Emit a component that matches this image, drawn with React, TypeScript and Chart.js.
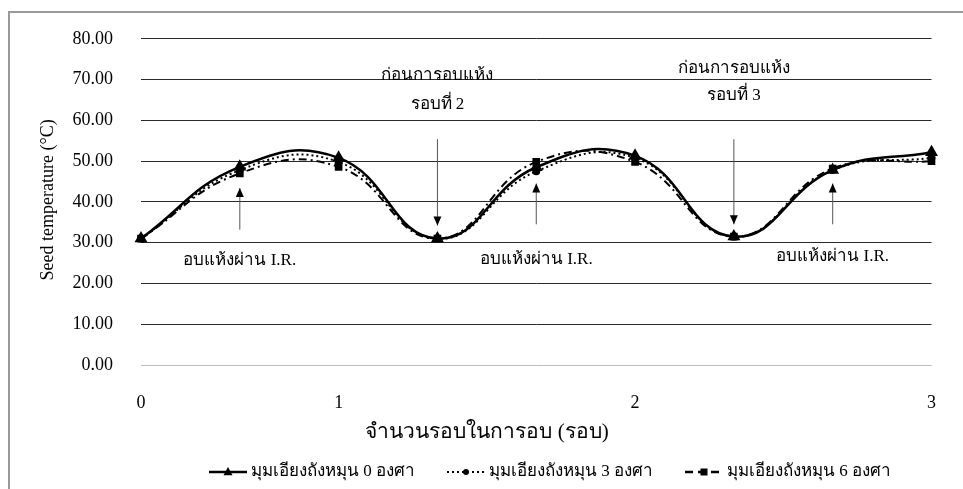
import React, { useEffect, useRef } from "react";
import { Chart, registerables } from "chart.js";

Chart.register(...registerables);

const categories = ["0", "", "1", "", "", "2", "", "", "3"];
const series0 = [31, 48.6, 50.8, 31, 48.5, 51.3, 31.5, 47.8, 52.2];
const series1 = [31, 47.8, 49.8, 31, 47.5, 50.8, 31.5, 47.8, 50.8];
const series2 = [31, 47, 48.6, 31, 49.8, 49.8, 31.5, 48.2, 50];
const seriesNames = [
  "มุมเอียงถังหมุน 0 องศา",
  "มุมเอียงถังหมุน 3 องศา",
  "มุมเอียงถังหมุน 6 องศา",
];
const yTitle = "Seed temperature (°C)";
const xTitle = "จำนวนรอบในการอบ (รอบ)";

// annotations in data units (category index, value)
const downArrows = [
  { x: 3, from: 55.4, to: 34.2, lines: ["ก่อนการอบแห้ง", "รอบที่ 2"], ly: [71, 64] },
  { x: 6, from: 55.4, to: 34.5, lines: ["ก่อนการอบแห้ง", "รอบที่ 3"], ly: [72.8, 66.2] },
];
const upArrows = [
  { x: 1, from: 33.2, to: 43.4, label: "อบแห้งผ่าน I.R.", ly: 25.7 },
  { x: 4, from: 34.5, to: 44.5, label: "อบแห้งผ่าน I.R.", ly: 25.9 },
  { x: 7, from: 34.5, to: 44.5, label: "อบแห้งผ่าน I.R.", ly: 26.6 },
];

const FONT = "'Liberation Serif', 'Times New Roman', serif";

function drawMarker(ctx: CanvasRenderingContext2D, style: string, x: number, y: number, r: number) {
  ctx.beginPath();
  if (style === "triangle") {
    ctx.moveTo(x, y - r * 1.1);
    ctx.lineTo(x + r, y + r * 0.7);
    ctx.lineTo(x - r, y + r * 0.7);
    ctx.closePath();
  } else if (style === "circle") {
    ctx.arc(x, y, r, 0, Math.PI * 2);
  } else {
    ctx.rect(x - r, y - r, r * 2, r * 2);
  }
  ctx.fill();
}

const overlay = {
  id: "overlay",
  afterDraw(chart: any) {
    const ctx: CanvasRenderingContext2D = chart.ctx;
    const xs = chart.scales.x;
    const ys = chart.scales.y;
    ctx.save();
    // outer frame
    ctx.strokeStyle = "#9a9a9a";
    ctx.lineWidth = 2;
    ctx.strokeRect(9, 12, 1000, 600);

    // y title
    ctx.fillStyle = "#000";
    ctx.font = `18px ${FONT}`;
    ctx.save();
    ctx.translate(48, (chart.chartArea.top + chart.chartArea.bottom) / 2 - 2);
    ctx.rotate(-Math.PI / 2);
    ctx.textAlign = "center";
    ctx.textBaseline = "middle";
    ctx.fillText(yTitle, 0, 0);
    ctx.restore();

    // x title
    ctx.textAlign = "center";
    ctx.textBaseline = "middle";
    ctx.font = `21px ${FONT}`;
    ctx.fillText(xTitle, 487, 432);

    // arrows
    const arrow = (x: number, y1: number, y2: number) => {
      ctx.strokeStyle = "#555";
      ctx.lineWidth = 1;
      ctx.beginPath();
      ctx.moveTo(x, y1);
      ctx.lineTo(x, y2);
      ctx.stroke();
      const dir = y2 > y1 ? 1 : -1;
      ctx.fillStyle = "#000";
      ctx.beginPath();
      ctx.moveTo(x, y2);
      ctx.lineTo(x - 4, y2 - dir * 9);
      ctx.lineTo(x + 4, y2 - dir * 9);
      ctx.closePath();
      ctx.fill();
    };
    ctx.font = `17px ${FONT}`;
    for (const a of downArrows) {
      const px = xs.getPixelForValue(a.x);
      arrow(px, ys.getPixelForValue(a.from), ys.getPixelForValue(a.to));
      ctx.fillStyle = "#000";
      a.lines.forEach((t, i) => ctx.fillText(t, px, ys.getPixelForValue(a.ly[i])));
    }
    for (const a of upArrows) {
      const px = xs.getPixelForValue(a.x);
      arrow(px, ys.getPixelForValue(a.from), ys.getPixelForValue(a.to));
      ctx.fillStyle = "#000";
      ctx.fillText(a.label, px, ys.getPixelForValue(a.ly));
    }

    // legend
    const styles = [
      { dash: [], marker: "triangle", r: 4.5, lw: 2.5 },
      { dash: [2, 3], marker: "circle", r: 3, lw: 2 },
      { dash: [8, 5], marker: "rect", r: 3.5, lw: 2.5 },
    ];
    ctx.font = `17px ${FONT}`;
    const sample = 38;
    const gap = 4;
    const spacing = 32;
    const widths = seriesNames.map((n) => sample + gap + ctx.measureText(n).width);
    const total = widths.reduce((a, b) => a + b, 0) + spacing * (widths.length - 1);
    let cx = 550 - total / 2;
    const ly = 472;
    seriesNames.forEach((n, i) => {
      const s = styles[i];
      ctx.strokeStyle = "#000";
      ctx.lineWidth = s.lw;
      ctx.setLineDash(s.dash);
      ctx.beginPath();
      ctx.moveTo(cx, ly);
      ctx.lineTo(cx + sample, ly);
      ctx.stroke();
      ctx.setLineDash([]);
      ctx.fillStyle = "#000";
      drawMarker(ctx, s.marker, cx + sample / 2, ly, s.r);
      ctx.textAlign = "left";
      ctx.textBaseline = "middle";
      ctx.fillText(n, cx + sample + gap, ly);
      cx += widths[i] + spacing;
    });
    ctx.restore();
  },
};

export default function App() {
  const ref = useRef<HTMLCanvasElement>(null);
  useEffect(() => {
    if (!ref.current) return;
    const chart = new Chart(ref.current, {
      type: "line",
      data: {
        labels: categories,
        datasets: [
          {
            label: seriesNames[0],
            data: series0,
            borderColor: "#000",
            backgroundColor: "#000",
            borderWidth: 2.5,
            pointStyle: "triangle",
            pointRadius: 5,
            tension: 0.45,
          },
          {
            label: seriesNames[1],
            data: series1,
            borderColor: "#000",
            backgroundColor: "#000",
            borderWidth: 2,
            borderDash: [2, 3],
            pointStyle: "circle",
            pointRadius: 3,
            tension: 0.45,
          },
          {
            label: seriesNames[2],
            data: series2,
            borderColor: "#000",
            backgroundColor: "#000",
            borderWidth: 2,
            borderDash: [8, 4, 2, 4],
            pointStyle: "rect",
            pointRadius: 4,
            tension: 0.45,
          },
        ],
      },
      options: {
        responsive: true,
        maintainAspectRatio: false,
        animation: false,
        layout: { padding: { top: 33, right: 27, left: 0, bottom: 0 } },
        plugins: { legend: { display: false }, tooltip: { enabled: false } },
        scales: {
          x: {
            type: "category",
            offset: false,
            grid: { display: false, drawTicks: false },
            border: { display: false },
            afterFit: (s: any) => {
              s.height = 124;
            },
            ticks: {
              autoSkip: false,
              maxRotation: 0,
              padding: 27,
              color: "#000",
              font: { family: FONT, size: 18 },
            },
          },
          y: {
            min: 0,
            max: 80,
            afterFit: (s: any) => {
              s.width = 141;
            },
            border: { display: false },
            grid: {
              drawTicks: false,
              color: (c: any) => (c.tick && c.tick.value === 0 ? "#bdbdbd" : "#2a2a2a"),
              lineWidth: 1,
            },
            ticks: {
              stepSize: 10,
              padding: 28,
              color: "#000",
              font: { family: FONT, size: 18 },
              callback: (v: any) => Number(v).toFixed(2),
            },
          },
        },
      },
      plugins: [overlay],
    });
    return () => chart.destroy();
  }, []);
  return (
    <div style={{ position: "fixed", left: 0, top: 0, width: 963, height: 489, background: "#fff" }}>
      <canvas ref={ref} />
    </div>
  );
}
